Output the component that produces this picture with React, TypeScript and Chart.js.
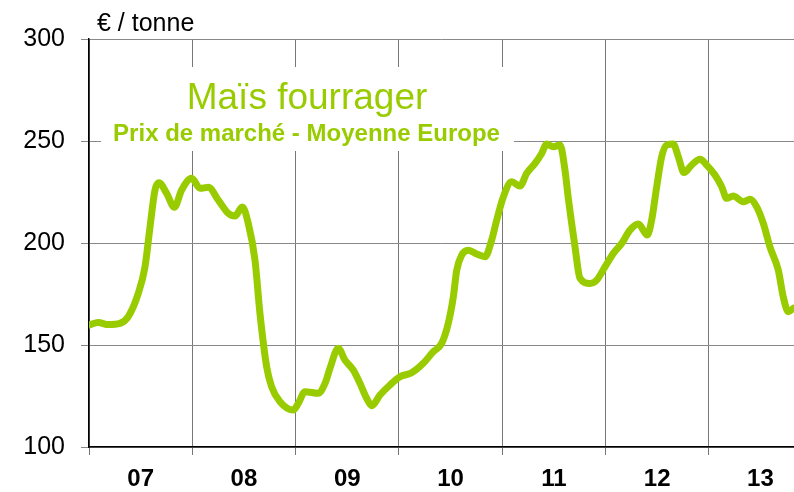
import React, { useEffect, useRef } from "react";
import { Chart, registerables } from "chart.js";

Chart.register(...registerables);

// decimal year positions of traced points
const dates: number[] = [
  2007.0, 2007.09, 2007.187, 2007.3, 2007.38, 2007.477, 2007.542, 2007.591, 2007.639, 2007.678,
  2007.752, 2007.826, 2007.897, 2007.994, 2008.075, 2008.155, 2008.252, 2008.349, 2008.413, 2008.484,
  2008.542, 2008.607, 2008.655, 2008.72, 2008.768, 2008.849, 2008.978, 2009.026, 2009.091, 2009.22,
  2009.285, 2009.333, 2009.413, 2009.478, 2009.559, 2009.623, 2009.688, 2009.737, 2009.817, 2009.914,
  2010.011, 2010.124, 2010.236, 2010.333, 2010.414, 2010.478, 2010.527, 2010.56, 2010.608, 2010.672,
  2010.753, 2010.834, 2010.898, 2010.947, 2011.011, 2011.092, 2011.172, 2011.237, 2011.318, 2011.382,
  2011.431, 2011.495, 2011.56, 2011.608, 2011.64, 2011.705, 2011.753, 2011.85, 2011.915, 2011.995,
  2012.076, 2012.157, 2012.237, 2012.318, 2012.405, 2012.447, 2012.496, 2012.544, 2012.592, 2012.656,
  2012.705, 2012.76, 2012.834, 2012.915, 2012.98, 2013.06, 2013.125, 2013.173, 2013.237, 2013.334,
  2013.398, 2013.464, 2013.528, 2013.592, 2013.673, 2013.721, 2013.77, 2013.818,
];

const prices: number[] = [
  159.8, 161, 160, 160.6, 163.9, 175.3, 188.3, 208, 226, 229.5,
  224.3, 217.5, 226, 231.7, 226.8, 227.3, 221, 214.5, 213.2, 217.7,
  209.6, 191.6, 165.5, 139.3, 129.5, 122.2, 118.1, 121.4, 127.1, 126.3,
  131.2, 138.6, 148.4, 142.6, 137.7, 131.2, 123.9, 120.2, 125.5, 130.4,
  134.4, 136.4, 141, 146.7, 150.8, 160.6, 173.6, 186.7, 194.1, 196.5,
  194.6, 193.3, 201.4, 211.2, 222.6, 230, 227.9, 234.1, 239, 243.9,
  248.5, 247.2, 248, 235.7, 222, 198.1, 182.7, 180.2, 181.8, 188.3,
  194.9, 199.8, 206.3, 209.3, 203.9, 211.2, 227.6, 242.3, 248, 248.5,
  242.3, 234.5, 238.2, 241, 238.2, 233.3, 227.6, 221.9, 223, 220.2,
  221.4, 217.7, 209.6, 198.1, 186.7, 173.6, 166.3, 168,
];

const yTicks: number[] = [100, 150, 200, 250, 300];
const yearLabels: string[] = ["07", "08", "09", "10", "11", "12", "13"];

const TITLE = "Maïs fourrager";
const SUBTITLE = "Prix de marché - Moyenne Europe";
const UNIT = "€ / tonne";
const GREEN = "#99CC00";

const titlePlugin = {
  id: "titleBox",
  beforeDatasetsDraw(chart: any) {
    const ctx = chart.ctx;
    ctx.save();
    ctx.fillStyle = "#ffffff";
    ctx.fillRect(101, 67, 413, 84);
    ctx.fillStyle = GREEN;
    ctx.textAlign = "center";
    ctx.textBaseline = "alphabetic";
    ctx.font = "37px 'Liberation Sans', Arial, sans-serif";
    ctx.fillText(TITLE, 307, 109);
    ctx.font = "bold 24px 'Liberation Sans', Arial, sans-serif";
    ctx.fillText(SUBTITLE, 306.5, 141);
    ctx.fillStyle = "#000";
    ctx.textAlign = "left";
    ctx.font = "25px 'Liberation Sans', Arial, sans-serif";
    ctx.fillText(UNIT, 97, 31);
    ctx.restore();
  },
};

export default function App() {
  const ref = useRef<HTMLCanvasElement>(null);
  useEffect(() => {
    if (!ref.current) return;
    const points = dates.map((d, i) => ({ x: d, y: prices[i] }));
    const isInt = (v: number) => Math.abs(v - Math.round(v)) < 0.01;
    const chart = new Chart(ref.current, {
      type: "line",
      data: {
        datasets: [
          {
            data: points,
            borderColor: GREEN,
            borderWidth: 7,
            pointRadius: 0,
            tension: 0.4,
            cubicInterpolationMode: "monotone",
            borderJoinStyle: "round",
            borderCapStyle: "round",
            fill: false,
          },
        ],
      },
      options: {
        animation: false,
        responsive: false,
        maintainAspectRatio: false,
        layout: { padding: { left: 0, right: 0, top: 39, bottom: 0 } },
        plugins: { legend: { display: false }, tooltip: { enabled: false }, title: { display: false } },
        scales: {
          x: {
            type: "linear",
            min: 2007,
            max: 2013.825,
            afterFit: (s: any) => {
              s.height = 45;
            },
            afterBuildTicks: (s: any) => {
              const t: any[] = [];
              for (let i = 0; i < yearLabels.length; i++) {
                t.push({ value: 2007 + i });
                t.push({ value: 2007 + i + 0.5 });
              }
              s.ticks = t;
            },
            grid: {
              color: (c: any) => (c.tick && isInt(c.tick.value) ? "#777777" : "rgba(0,0,0,0)"),
              lineWidth: 1,
              tickLength: 8,
              drawOnChartArea: true,
            },
            border: { display: true, color: "#000000", width: 1.5 },
            ticks: {
              autoSkip: false,
              maxRotation: 0,
              padding: 10,
              color: "#000",
              font: { family: "'Liberation Sans', Arial, sans-serif", size: 24, weight: "bold" },
              callback: (v: any) => {
                const n = Number(v);
                if (isInt(n)) return "";
                const idx = Math.floor(n) - 2007;
                return yearLabels[idx] ?? "";
              },
            },
          },
          y: {
            type: "linear",
            min: 100,
            max: 300,
            afterFit: (s: any) => {
              s.width = 89;
            },
            afterBuildTicks: (s: any) => {
              s.ticks = yTicks.map((v) => ({ value: v }));
            },
            grid: { color: "#888888", lineWidth: 1, tickLength: 8 },
            border: { display: true, color: "#000000", width: 1.5 },
            ticks: {
              padding: 16,
              color: "#000",
              font: { family: "'Liberation Sans', Arial, sans-serif", size: 25 },
              callback: (v: any) => String(v),
            },
          },
        },
      },
      plugins: [titlePlugin],
    } as any);
    return () => chart.destroy();
  }, []);
  return (
    <div style={{ position: "absolute", left: 0, top: 0, width: 794, height: 492, background: "#fff" }}>
      <canvas ref={ref} width={794} height={492} style={{ display: "block" }} />
    </div>
  );
}
